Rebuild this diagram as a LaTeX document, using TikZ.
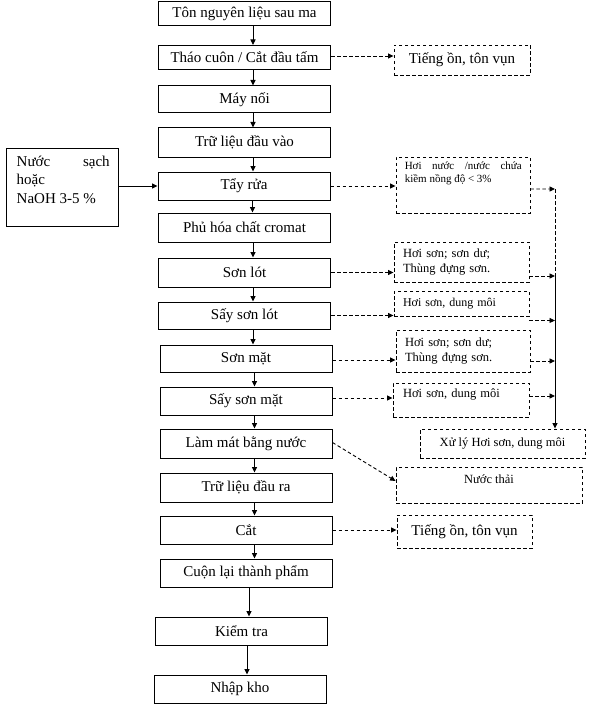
\documentclass[tikz,border=0pt]{standalone}
\usepackage{fontspec}
\setmainfont{Liberation Serif}
\usetikzlibrary{positioning,arrows.meta}

\begin{document}
\begin{tikzpicture}[
    x=1bp, y=-1bp,
    procbox/.style={rectangle, draw, line width=1bp, minimum width=172bp, minimum height=28bp, inner sep=1bp, font=\fontsize{15bp}{18.5bp}\selectfont},
    wastebox/.style={rectangle, draw, line width=0.9bp, dash pattern=on 3.5bp off 2.5bp, inner sep=0pt, font=\fontsize{12.5bp}{15bp}\selectfont},
    bigtext/.style={font=\fontsize{15bp}{18.5bp}\selectfont},
    arrow/.style={-{Triangle[length=5.5bp,width=5bp]}, line width=0.9bp},
    dashline/.style={line width=0.9bp, dash pattern=on 3.5bp off 2.5bp},
    dasharrow/.style={arrow, dash pattern=on 3.5bp off 2.5bp}
]
\useasboundingbox (0,0) rectangle (595,713);

\node[procbox, minimum height=24bp] (nguyenlieu) at (244.5,14) {Tôn nguyên liệu sau ma};
\node[procbox, minimum height=24bp] (thaocuon) at (244.5,57.5) {Tháo cuôn / Cắt đầu tấm};
\node[procbox, minimum height=27bp] (maynoi) at (244.5,99.5) {Máy nối};
\node[procbox, minimum height=29bp] (truvao) at (244.5,142.5) {Trữ liệu đầu vào};
\node[procbox] (tayrua) at (244,186) {Tẩy rửa};
\node[procbox, minimum height=29bp] (phuhoa) at (244.5,227.5) {Phủ hóa chất cromat};
\node[procbox, minimum height=29bp] (sonlot) at (244.5,272.5) {Sơn lót};
\node[procbox, minimum height=27bp] (saylot) at (244.5,315.5) {Sấy sơn lót};
\node[procbox, minimum height=27bp] (sonmat) at (246,358.5) {Sơn mặt};
\node[procbox] (saymat) at (246,401) {Sấy sơn mặt};
\node[procbox, minimum height=29bp] (lammat) at (246,443.5) {Làm mát bằng nước};
\node[procbox, minimum height=29bp] (trura) at (246,487.5) {Trữ liệu đầu ra};
\node[procbox] (cat) at (246,530) {Cắt};
\node[procbox] (cuonlai) at (246,573) {Cuộn lại thành phẩm};
\node[procbox] (kiemtra) at (241.5,631) {Kiểm tra};
\node[procbox] (nhapkho) at (240,689) {Nhập kho};

\node[rectangle, draw, line width=1bp, minimum width=111bp, minimum height=77bp] (nuocsach) at (62.5,187.5) {};
\node[bigtext, anchor=north west, align=left, inner sep=0pt] (nuocsachtxt) at ([xshift=10bp,yshift=-7bp]nuocsach.north west) {\makebox[93bp][s]{Nước sạch}\\hoặc\\NaOH 3-5 \%};

\node[wastebox, bigtext, minimum width=136bp, minimum height=30bp] (tiengon1) at (462,60) {Tiếng ồn, tôn vụn};
\node[wastebox, minimum width=134bp, minimum height=56bp] (hoinuoc) at (463,185) {};
\node[anchor=north west, align=left, inner sep=0pt, font=\fontsize{11bp}{13.5bp}\selectfont] (hoinuoctxt) at ([xshift=9bp,yshift=-5bp]hoinuoc.north west) {\makebox[117bp][s]{Hơi nước /nước chứa}\\kiềm nồng độ < 3\%};
\node[wastebox, minimum width=135bp, minimum height=40bp, text width=117bp, align=left] (hoison1) at (461.5,262) {Hơi sơn; sơn dư;\\Thùng đựng sơn.};
\node[wastebox, minimum width=135bp, minimum height=25bp, text width=117bp, align=left, font=\fontsize{12bp}{14bp}\selectfont] (hoison2) at (461.5,303.5) {Hơi sơn, dung môi};
\node[wastebox, minimum width=134bp, minimum height=42bp, text width=116bp, align=left] (hoison3) at (463,351) {Hơi sơn; sơn dư;\\Thùng đựng sơn.};
\node[wastebox, minimum width=136bp, minimum height=34bp, text width=116bp, align=left, text depth=13bp] (hoison4) at (461,400) {Hơi sơn, dung môi};
\node[wastebox, minimum width=165bp, minimum height=29bp] (xuly) at (502.5,443.5) {Xử lý Hơi sơn, dung môi};
\node[wastebox, minimum width=186bp, minimum height=36bp, text depth=11bp] (nuocthai) at (489,485) {Nước thải};
\node[wastebox, bigtext, minimum width=135bp, minimum height=33bp] (tiengon2) at (464.5,531.5) {Tiếng ồn, tôn vụn};

\coordinate (gom) at (555,189);
\coordinate (gomduoi) at ([yshift=-14bp]hoison1.east -| gom);

\foreach \a/\b in {nguyenlieu/thaocuon, thaocuon/maynoi, maynoi/truvao, truvao/tayrua, tayrua/phuhoa, phuhoa/sonlot, sonlot/saylot, saylot/sonmat, sonmat/saymat, saymat/lammat, lammat/trura, trura/cat, cat/cuonlai}
    \draw[arrow] ([xshift=8.5bp]\a.south) -- ([xshift=8.5bp]\a.south |- \b.north);
\draw[arrow] ([xshift=3bp]cuonlai.south) -- ([xshift=3bp]cuonlai.south |- kiemtra.north);
\draw[arrow] ([xshift=5.5bp]kiemtra.south) -- ([xshift=5.5bp]kiemtra.south |- nhapkho.north);

\draw[arrow] (nuocsach.east |- tayrua.west) -- (tayrua.west);

\draw[dasharrow] ([yshift=1.5bp]thaocuon.east) -- ([yshift=1.5bp]thaocuon.east -| tiengon1.west);
\draw[dasharrow] (tayrua.east) -- (tayrua.east -| hoinuoc.west);
\draw[dasharrow] (sonlot.east) -- (sonlot.east -| hoison1.west);
\draw[dasharrow] (saylot.east) -- (saylot.east -| hoison2.west);
\draw[dasharrow] ([yshift=-1.5bp]sonmat.east) -- ([yshift=-1.5bp]sonmat.east -| hoison3.west);
\draw[dasharrow] ([yshift=3bp]saymat.east) -- ([yshift=3bp]saymat.east -| hoison4.west);
\draw[dasharrow] ([yshift=1bp]lammat.east) -- ([yshift=4bp]nuocthai.west);
\draw[dasharrow] (cat.east) -- (cat.east -| tiengon2.west);

\draw[dasharrow] ([yshift=-4bp]hoinuoc.east) -- (gom);
\draw[dasharrow] ([yshift=-14bp]hoison1.east) -- (gomduoi);
\draw[dasharrow] ([yshift=-4bp]hoison2.south east) -- ([yshift=-4bp]hoison2.south east -| gom);
\draw[dasharrow] ([yshift=-10bp]hoison3.east) -- ([yshift=-10bp]hoison3.east -| gom);
\draw[dasharrow] ([yshift=4bp]hoison4.east) -- ([yshift=4bp]hoison4.east -| gom);
\draw[dashline] (gom) -- (gomduoi);
\draw[arrow] (gomduoi) -- (gom |- xuly.north);

\end{tikzpicture}
\end{document}
